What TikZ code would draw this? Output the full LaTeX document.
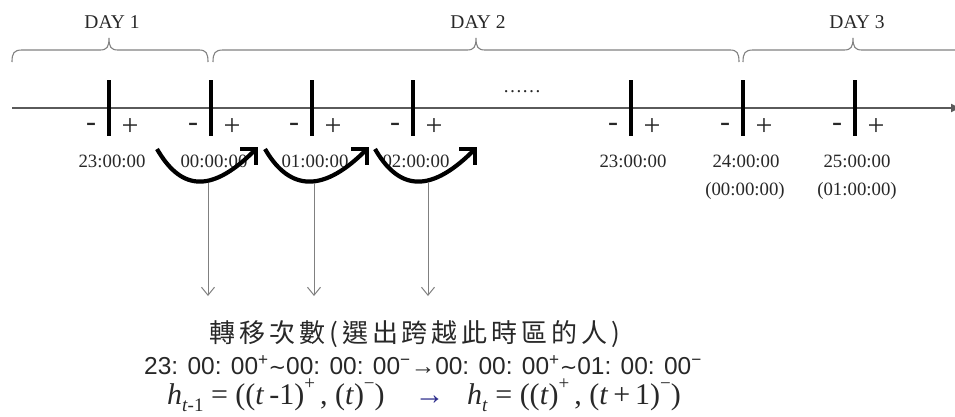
\documentclass[tikz,border=0pt]{standalone}
\usepackage{fontspec}
\setmainfont{Liberation Serif}
\newfontfamily\cjk{Noto Sans CJK TC}
\newfontfamily\lsans{Liberation Sans}
\newfontfamily\djv{DejaVu Sans}
\usetikzlibrary{arrows.meta}
\definecolor{axisgray}{RGB}{90,90,90}
\definecolor{bracegray}{RGB}{130,130,130}
\definecolor{textgray}{RGB}{40,40,40}
\definecolor{navyarrow}{RGB}{45,45,140}
\newcommand{\msub}[1]{\raisebox{-0.22em}{\fontsize{19}{19}\selectfont #1}}
\newcommand{\msup}[1]{\raisebox{0.5em}{\fontsize{19}{19}\selectfont #1}}
\newcommand{\cl}{:\hspace{0.38em}}
\newcommand{\sps}{\textsuperscript{+}}
\newcommand{\sms}{\textsuperscript{−}}
\newcommand{\tld}{{\djv\fontsize{21}{21}\selectfont\char"007E}}
\begin{document}
\begin{tikzpicture}[x=1pt,y=-1pt,
  tickline/.style={line width=3.5pt,black},
  sign/.style={font=\fontsize{30}{30}\selectfont,text=textgray,inner sep=0pt},
  timelabel/.style={font=\fontsize{18.8}{20}\selectfont,text=textgray,inner sep=0pt},
  daylabel/.style={font=\fontsize{19.5}{20}\selectfont,text=textgray,inner sep=0pt},
  bracepath/.style={draw=bracegray,line width=1.1pt},
  hop/.style={line width=4.2pt,-{Straight Barb[length=11pt,width=22pt]}},
  pointer/.style={draw=gray,line width=1pt,-{Straight Barb[length=8pt,width=13pt]}},
]
\useasboundingbox (0,0) rectangle (955,416);
\fill[white] (0,0) rectangle (955,416);

% day labels
\node[daylabel] (day1) at (112,22) {DAY 1};
\node[daylabel] (day2) at (478,22) {DAY 2};
\node[daylabel] (day3) at (857,22) {DAY 3};

% braces
\draw[bracepath] (12,62) .. controls (12,53) and (14,50) .. (22,50) -- (100,50)
  .. controls (107,50) and (109,47) .. (109,38)
  .. controls (109,47) and (111,50) .. (118,50) -- (199,50)
  .. controls (206,50) and (208,53) .. (208,62);
\draw[bracepath] (213,62) .. controls (213,53) and (215,50) .. (223,50) -- (467,50)
  .. controls (474,50) and (476,47) .. (476,38)
  .. controls (476,47) and (478,50) .. (485,50) -- (730,50)
  .. controls (737,50) and (739,53) .. (739,62);
\draw[bracepath] (743,62) .. controls (743,53) and (745,50) .. (753,50) -- (844,50)
  .. controls (851,50) and (853,47) .. (853,38)
  .. controls (853,47) and (855,50) .. (862,50) -- (965,50);

% axis
\coordinate (axstart) at (12,108);
\coordinate (axend) at (961,108);
\draw[axisgray,line width=1.3pt,-{Latex[length=10pt,width=9pt]}] (axstart) -- (axend);

% ticks
\foreach \n/\x in {a/109,b/211,c/312,d/413,e/631,f/743,g/855}{
  \coordinate (\n) at (\x,108);
  \draw[tickline] (\x,80) -- (\x,136);
  \node[sign] (\n m) at (\x-18,127) {-};
  \node[sign] (\n p) at (\x+21,127) {+};
}

% dots
\node[font=\fontsize{19}{19}\selectfont,text=textgray,anchor=base,inner sep=0pt] (dots) at (522,92) {……};

% time labels
\node[timelabel] (ta) at (112,161) {23:00:00};
\node[timelabel] (tb) at (214,161) {00:00:00};
\node[timelabel] (tc) at (315,161) {01:00:00};
\node[timelabel] (td) at (416,161) {02:00:00};
\node[timelabel] (te) at (633,161) {23:00:00};
\node[timelabel] (tf) at (746,161) {24:00:00};
\node[timelabel] (tf2) at (745,191) {(00:00:00)};
\node[timelabel] (tg) at (857,161) {25:00:00};
\node[timelabel] (tg2) at (857,191) {(01:00:00)};

% curved hop arrows
\coordinate (s1) at (157,149); \coordinate (e1) at (258,147);
\coordinate (s2) at (265,149); \coordinate (e2) at (369,147);
\coordinate (s3) at (375,149); \coordinate (e3) at (477,147);
\draw[hop] (s1) .. controls +(22,38) and +(-50,50) .. (e1);
\draw[hop] (s2) .. controls +(22,38) and +(-50,50) .. (e2);
\draw[hop] (s3) .. controls +(22,38) and +(-50,50) .. (e3);

% pointers
\coordinate (p1) at (208,183); \coordinate (q1) at (208,296);
\coordinate (p2) at (314,183); \coordinate (q2) at (314,296);
\coordinate (p3) at (428,183); \coordinate (q3) at (428,296);
\draw[pointer] (p1) -- (q1);
\draw[pointer] (p2) -- (q2);
\draw[pointer] (p3) -- (q3);

% bottom text
\node[font=\cjk\fontsize{26}{28}\selectfont\addfontfeature{LetterSpace=15},text=textgray,inner sep=0pt] (title) at (415,334) {轉移次數(選出跨越此時區的人)};
\node[font=\lsans\fontsize{24.5}{25}\selectfont,text=textgray,inner sep=0pt] (range) at (423,365)
  {23\cl00\cl00\sps\tld00\cl00\cl00\sms→00\cl00\cl00\sps\tld01\cl00\cl00\sms};
\node[font=\fontsize{30}{32}\selectfont,text=textgray,inner sep=0pt] (formula) at (424,395)
  {\textit{h}\msub{\textit{t}-1}\ =\ ((\textit{t}\,-1)\msup{+}\,, (\textit{t})\msup{−})\quad{\color{navyarrow}→}\ \ \ \textit{h}\msub{\textit{t}}\ =\ ((\textit{t})\msup{+}\,, (\textit{t}\,+\,1)\msup{−})};
\end{tikzpicture}
\end{document}
